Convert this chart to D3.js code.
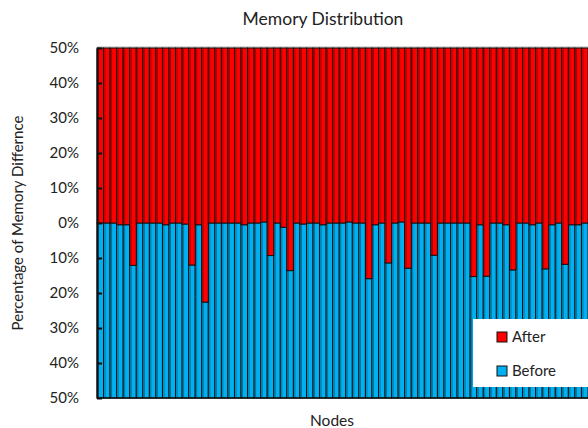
<!DOCTYPE html>
<html>
<head>
<meta charset="utf-8">
<script src="https://cdn.jsdelivr.net/npm/d3@7"></script>
<style>
  body { margin: 0; background: #fff; }
  text { font-family: Lato, "Open Sans", sans-serif; fill: #222; }
</style>
</head>
<body>
<svg id="chart" width="588" height="428"></svg>
<script>
// share of memory per node, before (blue, bottom) and after (red, top)
var before = [50, 50, 50, 49.5, 49.5, 37.9, 50, 50, 50, 50,
              49.5, 50, 50, 49.7, 38.0, 49.5, 27.4, 50, 50, 50,
              50, 50, 49.5, 50, 50, 50.3, 40.7, 50, 48.8, 36.4,
              50, 49.7, 50, 50, 49.5, 50, 50, 50, 50.3, 50,
              50, 34.1, 49.5, 50, 38.6, 50, 50.3, 37.1, 50, 50,
              50, 40.8, 50, 50, 50, 50, 50, 34.7, 49.5, 34.8,
              50, 50, 49.5, 36.6, 50, 50, 49.5, 50, 36.9, 49.5,
              50, 38.2, 49.5, 49.5, 50];
var after = [50, 50, 50, 50.5, 50.5, 62.1, 50, 50, 50, 50,
             50.5, 50, 50, 50.3, 62.0, 50.5, 72.6, 50, 50, 50,
             50, 50, 50.5, 50, 50, 49.7, 59.3, 50, 51.2, 63.6,
             50, 50.3, 50, 50, 50.5, 50, 50, 50, 49.7, 50,
             50, 65.9, 50.5, 50, 61.4, 50, 49.7, 62.9, 50, 50,
             50, 59.2, 50, 50, 50, 50, 50, 65.3, 50.5, 65.2,
             50, 50, 50.5, 63.4, 50, 50, 50.5, 50, 63.1, 50.5,
             50, 61.8, 50.5, 50.5, 50];
var nodes = before.map(function(d, i) { return "N" + (i + 1); });
var yTicks = [50, 40, 30, 20, 10, 0, -10, -20, -30, -40, -50];
var seriesNames = ["After", "Before"];
var seriesColors = {After: "#ff0000", Before: "#00b0f0"};

var svg = d3.select("#chart");
var plotLeft = 97, plotRight = 588, plotTop = 48, plotBottom = 398;

var x = d3.scaleBand().domain(nodes).range([plotLeft, plotRight]).padding(0);
var y = d3.scaleLinear().domain([-50, 50]).range([plotBottom, plotTop]);

var rows = nodes.map(function(n, i) {
    return {node: n, Before: before[i], After: after[i]};
});
// stack from the -50% baseline
var stacked = d3.stack().keys(["Before", "After"])(rows);
stacked.forEach(function(s) {
    s.forEach(function(p) { p[0] -= 50; p[1] -= 50; });
});

// faint top edge
svg.append("line")
    .attr("x1", plotLeft).attr("x2", plotRight)
    .attr("y1", plotTop - 1).attr("y2", plotTop - 1)
    .attr("stroke", "#b0b0b0").attr("stroke-width", 1);

var groups = svg.selectAll("g.series")
    .data(stacked)
    .enter().append("g")
    .attr("class", "series")
    .attr("fill", function(s) { return seriesColors[s.key]; });

groups.selectAll("rect")
    .data(function(s) { return s; })
    .enter().append("rect")
    .attr("x", function(d) { return x(d.data.node); })
    .attr("y", function(d) { return y(d[1]); })
    .attr("width", x.bandwidth())
    .attr("height", function(d) { return y(d[0]) - y(d[1]); })
    .attr("stroke", "#111")
    .attr("stroke-width", 1);

// darker strip along each bar's left edge (shadow look)
groups.selectAll("line.shade")
    .data(function(s) { return s; })
    .enter().append("line")
    .attr("class", "shade")
    .attr("x1", function(d) { return x(d.data.node) + 1.5; })
    .attr("x2", function(d) { return x(d.data.node) + 1.5; })
    .attr("y1", function(d) { return y(d[1]) + 0.5; })
    .attr("y2", function(d) { return y(d[0]) - 0.5; })
    .attr("stroke", "rgba(0,0,0,0.35)")
    .attr("stroke-width", 1);

// x axis baseline
svg.append("line")
    .attr("x1", plotLeft).attr("x2", plotRight)
    .attr("y1", plotBottom).attr("y2", plotBottom)
    .attr("stroke", "#111").attr("stroke-width", 1.5);

var yAxis = svg.append("g")
    .attr("transform", "translate(" + plotLeft + ",0)")
    .call(d3.axisLeft(y)
        .tickValues(yTicks)
        .tickSizeInner(-5)
        .tickSizeOuter(0)
        .tickPadding(18)
        .tickFormat(function(d) { return Math.abs(d) + "%"; }));
yAxis.select(".domain").attr("stroke", "#111").attr("stroke-width", 2);
yAxis.selectAll(".tick line").attr("stroke", "#111").attr("stroke-width", 2);
yAxis.selectAll(".tick text")
    .style("font-family", "Lato, 'Open Sans', sans-serif")
    .style("font-size", "15px")
    .attr("fill", "#222");

svg.append("text")
    .attr("x", 323).attr("y", 25)
    .attr("text-anchor", "middle")
    .style("font-size", "17.5px")
    .text("Memory Distribution");

svg.append("text")
    .attr("x", 332).attr("y", 426)
    .attr("text-anchor", "middle")
    .style("font-size", "15.5px")
    .text("Nodes");

svg.append("text")
    .attr("transform", "translate(23," + ((plotTop + plotBottom) / 2) + ") rotate(-90)")
    .attr("text-anchor", "middle")
    .style("font-size", "15px")
    .text("Percentage of Memory Differnce");

// legend
var legend = svg.append("g").attr("transform", "translate(473,319)");
legend.append("rect")
    .attr("width", 116).attr("height", 68)
    .attr("fill", "#fff");
var item = legend.selectAll("g.item")
    .data(seriesNames)
    .enter().append("g")
    .attr("class", "item")
    .attr("transform", function(d, i) { return "translate(24," + (13 + i * 34) + ")"; });
item.append("rect")
    .attr("width", 10).attr("height", 10)
    .attr("fill", function(d) { return seriesColors[d]; })
    .attr("stroke", "#111").attr("stroke-width", 1);
item.append("text")
    .attr("x", 15).attr("y", 10)
    .style("font-size", "15px")
    .text(function(d) { return d; });
</script>
</body>
</html>
